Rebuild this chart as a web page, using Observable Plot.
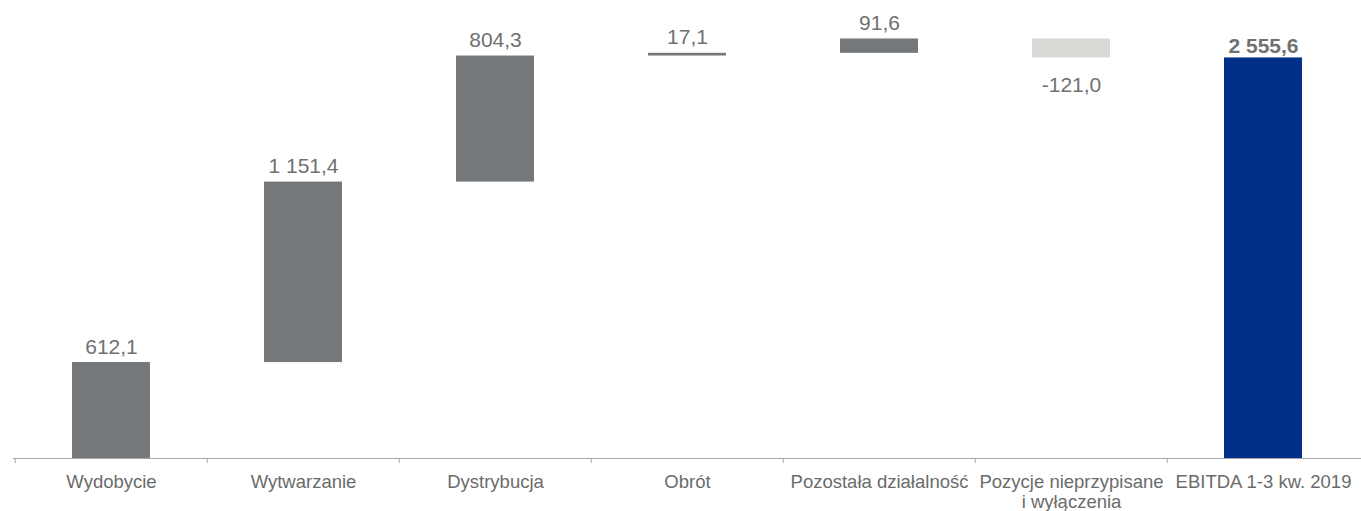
<!DOCTYPE html>
<html>
<head>
<meta charset="utf-8">
<script src="https://cdn.jsdelivr.net/npm/d3@7"></script>
<script src="https://cdn.jsdelivr.net/npm/@observablehq/plot@0.6"></script>
<style>
  html, body { margin: 0; padding: 0; background: #ffffff; }
  #chart svg { display: block; }
</style>
</head>
<body>
<div id="chart"></div>
<script>
const categories = ["Wydobycie", "Wytwarzanie", "Dystrybucja", "Obrót", "Pozostała działalność", "Pozycje nieprzypisane\ni wyłączenia", "EBITDA 1-3 kw. 2019"];
const values = [612.1, 1151.4, 804.3, 17.1, 91.6, -121.0, 2555.6];
const valueLabels = ["612,1", "1 151,4", "804,3", "17,1", "91,6", "-121,0", "2 555,6"];
const kinds = ["increase", "increase", "increase", "increase", "increase", "decrease", "total"];

// build waterfall rows
let running = 0;
const rows = categories.map((c, i) => {
  let start, end;
  if (kinds[i] === "total") { start = 0; end = values[i]; }
  else { start = running; end = running + values[i]; running = end; }
  return { category: c, start, end, value: values[i], label: valueLabels[i], kind: kinds[i],
           top: Math.max(start, end), bottom: Math.min(start, end) };
});

const width = 1361, height = 511, marginLeft = 13, marginRight = 0;
const step = (width - marginLeft - marginRight) / categories.length;
const font = "'Liberation Sans', Arial, sans-serif";

const chart = Plot.plot({
  width, height,
  marginLeft, marginRight, marginTop: 0, marginBottom: 53,
  style: { fontFamily: font, background: "#ffffff" },
  x: { domain: categories, paddingInner: 0.595, paddingOuter: 0.2975, align: 0.5, label: null },
  y: { domain: [0, 2922], axis: null },
  color: { domain: ["increase", "decrease", "total"], range: ["#75787b", "#d9d9d6", "#003087"] },
  marks: [
    Plot.barY(rows, { x: "category", y1: "start", y2: "end", fill: "kind" }),
    Plot.text(rows.filter(d => d.kind === "increase"), {
      x: "category", y: "top", text: "label", lineAnchor: "bottom",
      dy: -9, fontSize: 21, fill: "#707070"
    }),
    Plot.text(rows.filter(d => d.kind === "total"), {
      x: "category", y: "top", text: "label", lineAnchor: "bottom",
      dy: -5, fontSize: 21, fontWeight: "bold", fill: "#707070"
    }),
    Plot.text(rows.filter(d => d.kind === "decrease"), {
      x: "category", y: "bottom", text: "label", lineAnchor: "top",
      dy: 19, fontSize: 21, fill: "#707070"
    }),
    Plot.ruleY([0], { stroke: "#a6a6a6", strokeWidth: 1 }),
    Plot.axisX({ tickSize: 5, text: null, dx: -step / 2, stroke: "#a6a6a6", strokeOpacity: 1 }),
    Plot.axisX({ tickSize: 0, tickPadding: 14.5, fontSize: 18.5, fill: "#6b6b6b", lineHeight: 1.12, label: null })
  ]
});

document.getElementById("chart").appendChild(chart);
</script>
</body>
</html>
